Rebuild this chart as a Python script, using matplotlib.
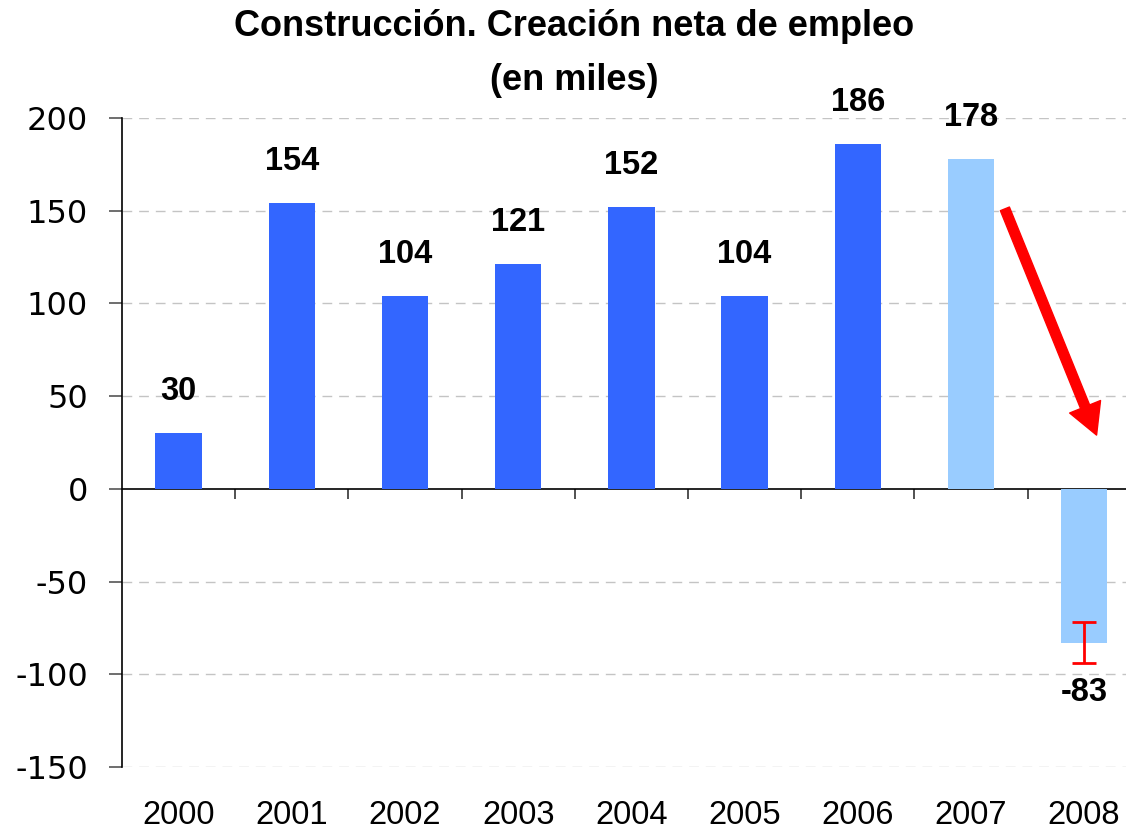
import matplotlib
matplotlib.use('Agg')
import matplotlib.pyplot as plt
import numpy as np

plt.rcParams['font.family'] = ['Liberation Sans', 'DejaVu Sans']

# net job creation in construction, thousands
years = ['2000', '2001', '2002', '2003', '2004', '2005', '2006', '2007', '2008']
values = [30, 154, 104, 121, 152, 104, 186, 178, -83]
colors = ['#3366FF'] * 7 + ['#99CCFF'] * 2
err_2008 = 11

yticks = [200, 150, 100, 50, 0, -50, -100, -150]

fig = plt.figure(figsize=(11.26, 8.30), dpi=100)
ax = fig.add_axes([122 / 1126, 63 / 830, 1004 / 1126, 649 / 830])

x = np.arange(len(years))
ax.bar(x, values, width=0.41, color=colors, zorder=2)

# range on the last estimate
ax.errorbar(x[-1], values[-1], yerr=err_2008, color='red', lw=2,
            capsize=8.5, capthick=2, zorder=3)

# value labels
for xi, v in zip(x, values):
    off = 30 if v >= 0 else -36
    ax.annotate(str(v), (xi, v), xytext=(0, off), textcoords='offset points',
                ha='center', va='center', fontsize=23.5, fontweight='bold')

ax.set_xlim(-0.5, 8.37)
ax.set_ylim(-150, 200)
ax.set_yticks(yticks)
ax.set_yticklabels([str(t) for t in yticks], fontsize=23, family='DejaVu Sans')
ax.set_xticks(x)
ax.set_xticklabels(years, fontsize=23.5)
ax.tick_params(axis='x', length=0, pad=24)
ax.tick_params(axis='y', length=9.5, width=1.2, direction='out', pad=15, color='#555555')

for t in [200, 150, 100, 50, -50, -100, -150]:
    ax.axhline(t, color='#c4c4c4', lw=1, linestyle=(0, (7, 5)), zorder=1)

for s in ['top', 'right', 'bottom']:
    ax.spines[s].set_visible(False)
ax.spines['left'].set_linewidth(1.2)

# zero line with category separators
zero_ax = ax.secondary_xaxis(150 / 350)
zero_ax.set_xticks(np.arange(0.5, 8, 1))
zero_ax.set_xticklabels([])
zero_ax.tick_params(length=7, width=1.2, direction='out', color='#333333')
zero_ax.spines['bottom'].set_linewidth(1.2)

# red downward arrow
ax.annotate('', xy=(8.11, 29), xytext=(7.30, 151),
            arrowprops=dict(arrowstyle='simple,head_length=22,head_width=24,tail_width=7',
                            color='red', shrinkA=0, shrinkB=0, mutation_scale=1),
            zorder=4)

title_font = dict(fontsize=26, fontweight='bold', ha='center', va='baseline')
fig.text(574 / 1126, 1 - 36 / 830, 'Construcción. Creación neta de empleo', **title_font)
fig.text(574 / 1126, 1 - 89.5 / 830, '(en miles)', **title_font)

fig.savefig('out.png', dpi=100)
